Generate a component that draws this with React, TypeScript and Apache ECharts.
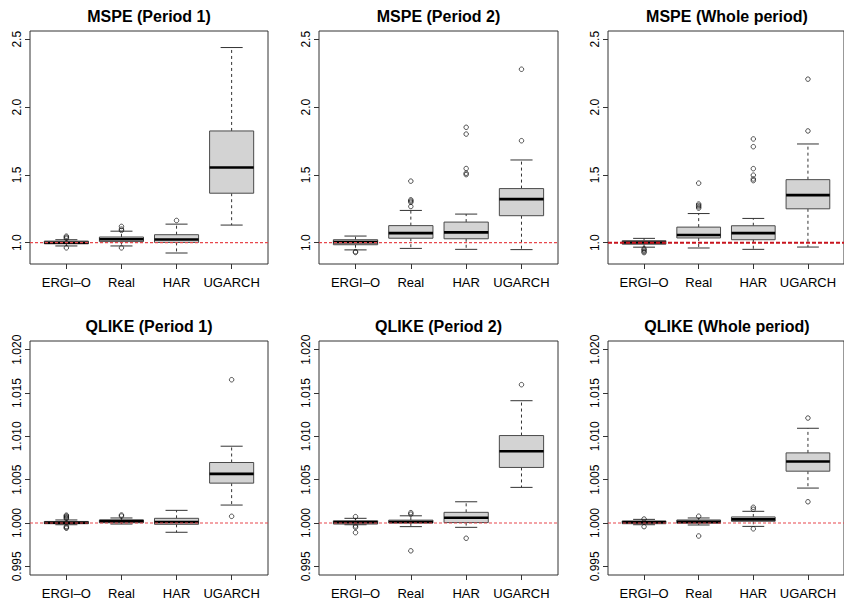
import React, { useEffect, useRef } from "react";
import * as echarts from "echarts";

// Model names on the x axis of every panel
const CATEGORIES = ["ERGI–O", "Real", "HAR", "UGARCH"];

// Tick values of the two y scales
const MSPE_TICKS = [1.0, 1.5, 2.0, 2.5];
const QLIKE_TICKS = [0.995, 1.0, 1.005, 1.01, 1.015, 1.02];

// Benchmark ratio drawn as a dashed reference line
const REFERENCE_LEVEL = 1;

// Box statistics per model: [lower whisker, Q1, median, Q3, upper whisker]
const mspeP1Boxes = [
  [0.976, 0.992, 1.0, 1.012, 1.022],
  [0.976, 1.008, 1.025, 1.042, 1.085],
  [0.924, 1.002, 1.024, 1.059, 1.137],
  [1.13, 1.365, 1.554, 1.824, 2.439],
];
const mspeP1Outliers = [[1.032, 1.04, 1.048, 0.962], [1.12, 1.1, 1.09, 0.962], [1.164], []];

const mspeP2Boxes = [
  [0.947, 0.985, 1.004, 1.022, 1.049],
  [0.958, 1.033, 1.071, 1.126, 1.238],
  [0.951, 1.029, 1.076, 1.152, 1.211],
  [0.949, 1.199, 1.321, 1.399, 1.61],
];
const mspeP2Outliers = [
  [0.934, 0.928],
  [1.454, 1.316, 1.307, 1.298, 1.267],
  [1.851, 1.801, 1.547, 1.512, 1.502],
  [2.279, 1.752],
];

const mspeWholeBoxes = [
  [0.967, 0.989, 1.001, 1.015, 1.032],
  [0.961, 1.035, 1.057, 1.115, 1.215],
  [0.951, 1.022, 1.071, 1.125, 1.179],
  [0.968, 1.25, 1.351, 1.465, 1.728],
];
const mspeWholeOutliers = [
  [0.955, 0.945, 0.935, 0.927],
  [1.439, 1.285, 1.275, 1.265, 1.255],
  [1.765, 1.708, 1.546, 1.498, 1.47, 1.458],
  [2.206, 1.824],
];

const qlikeP1Boxes = [
  [0.9998, 0.99992, 1.00003, 1.00018, 1.00035],
  [0.99988, 1.00003, 1.00022, 1.00035, 1.00058],
  [0.99893, 0.99985, 1.00011, 1.00054, 1.00146],
  [1.00207, 1.0046, 1.00567, 1.00698, 1.00886],
];
const qlikeP1Outliers = [
  [1.0009, 1.0008, 1.0007, 1.0006, 1.0005, 0.9996, 0.99948, 0.9994],
  [1.00092, 1.0008],
  [],
  [1.01653, 1.00077],
];

const qlikeP2Boxes = [
  [0.9998, 0.99988, 1.00008, 1.00026, 1.00054],
  [0.99958, 1.00001, 1.00011, 1.00033, 1.00083],
  [0.9995, 1.00005, 1.0006, 1.00123, 1.00245],
  [1.00411, 1.00641, 1.00828, 1.01009, 1.01411],
];
const qlikeP2Outliers = [
  [1.00073, 0.99965, 0.9995, 0.99889],
  [1.00119, 1.00102, 0.99679],
  [0.99824],
  [1.01596],
];

const qlikeWholeBoxes = [
  [0.9998, 0.99992, 1.00008, 1.00024, 1.00042],
  [0.99977, 0.99996, 1.00015, 1.00035, 1.00058],
  [0.99961, 1.0002, 1.00042, 1.0007, 1.00135],
  [1.00403, 1.00598, 1.0071, 1.00809, 1.01093],
];
const qlikeWholeOutliers = [
  [1.00046, 0.99958],
  [1.00078, 0.9985],
  [1.00181, 1.00158, 0.99933],
  [1.01211, 1.00245],
];

const FONT = "'Liberation Sans', Arial, Helvetica, sans-serif";

const X_MIN = 0.34;
const X_MAX = 4.66;

type Panel = {
  title: string;
  boxes: number[][];
  outliers: number[][];
  left: number;
  top: number;
  width: number;
  height: number;
  yMin: number;
  yMax: number;
  ticks: number[];
  decimals: number;
  refStrong: boolean;
  titleY: number;
};

const COL_LEFT = [30, 319, 608];
const COL_WIDTH = [238, 239, 238];
const ROW_TOP = [31, 341];
const ROW_HEIGHT = [233, 234];
const ROW_TITLE_Y = [16, 326];

const PANELS: Panel[] = [
  { title: "MSPE (Period 1)", boxes: mspeP1Boxes, outliers: mspeP1Outliers, col: 0, row: 0 },
  { title: "MSPE (Period 2)", boxes: mspeP2Boxes, outliers: mspeP2Outliers, col: 1, row: 0 },
  { title: "MSPE (Whole period)", boxes: mspeWholeBoxes, outliers: mspeWholeOutliers, col: 2, row: 0, refStrong: true },
  { title: "QLIKE (Period 1)", boxes: qlikeP1Boxes, outliers: qlikeP1Outliers, col: 0, row: 1 },
  { title: "QLIKE (Period 2)", boxes: qlikeP2Boxes, outliers: qlikeP2Outliers, col: 1, row: 1 },
  { title: "QLIKE (Whole period)", boxes: qlikeWholeBoxes, outliers: qlikeWholeOutliers, col: 2, row: 1 },
].map((p: any) => ({
  title: p.title,
  boxes: p.boxes,
  outliers: p.outliers,
  left: COL_LEFT[p.col],
  top: ROW_TOP[p.row],
  width: COL_WIDTH[p.col],
  height: ROW_HEIGHT[p.row],
  yMin: p.row === 0 ? 0.843 : 0.994,
  yMax: p.row === 0 ? 2.561 : 1.021,
  ticks: p.row === 0 ? MSPE_TICKS : QLIKE_TICKS,
  decimals: p.row === 0 ? 1 : 3,
  refStrong: !!p.refStrong,
  titleY: ROW_TITLE_Y[p.row],
}));

// R-style box: dashed whiskers, short staples, grey box, thick median
function renderBox(params: any, api: any) {
  const x = api.value(0);
  const pLo = api.coord([x, api.value(1)]);
  const pQ1 = api.coord([x, api.value(2)]);
  const pMed = api.coord([x, api.value(3)]);
  const pQ3 = api.coord([x, api.value(4)]);
  const pHi = api.coord([x, api.value(5)]);
  const unit = api.size([1, 0])[0];
  const cx = pMed[0];
  const hb = unit * 0.4;
  const hc = unit * 0.2;
  const whisker = { stroke: "#333", lineWidth: 1, lineDash: [3, 3] };
  const staple = { stroke: "#333", lineWidth: 1 };
  return {
    type: "group",
    children: [
      { type: "line", shape: { x1: cx, y1: pQ3[1], x2: cx, y2: pHi[1] }, style: whisker },
      { type: "line", shape: { x1: cx, y1: pQ1[1], x2: cx, y2: pLo[1] }, style: whisker },
      { type: "line", shape: { x1: cx - hc, y1: pHi[1], x2: cx + hc, y2: pHi[1] }, style: staple },
      { type: "line", shape: { x1: cx - hc, y1: pLo[1], x2: cx + hc, y2: pLo[1] }, style: staple },
      {
        type: "rect",
        shape: { x: cx - hb, y: pQ3[1], width: hb * 2, height: pQ1[1] - pQ3[1] },
        style: { fill: "#d3d3d3", stroke: "#4a4a4a", lineWidth: 1 },
      },
      {
        type: "line",
        shape: { x1: cx - hb, y1: pMed[1], x2: cx + hb, y2: pMed[1] },
        style: { stroke: "#000", lineWidth: 2.6 },
      },
    ],
  };
}

function buildOption() {
  const grid = PANELS.map((p) => ({
    left: p.left,
    top: p.top,
    width: p.width,
    height: p.height,
    show: true,
    borderColor: "#333",
    borderWidth: 1,
    backgroundColor: "transparent",
  }));

  const xAxis = PANELS.map((p, i) => ({
    type: "value",
    gridIndex: i,
    min: X_MIN,
    max: X_MAX,
    splitLine: { show: false },
    axisLine: { show: false },
    axisTick: {
      show: true,
      customValues: [1, 2, 3, 4],
      length: 5,
      lineStyle: { color: "#333", width: 1 },
    },
    axisLabel: {
      customValues: [1, 2, 3, 4],
      formatter: (v: number) => CATEGORIES[Math.round(v) - 1],
      fontSize: 13,
      fontFamily: FONT,
      color: "#000",
      margin: 12,
    },
  }));

  const yAxis = PANELS.map((p, i) => ({
    type: "value",
    gridIndex: i,
    min: p.yMin,
    max: p.yMax,
    splitLine: { show: false },
    axisLine: { show: false },
    axisTick: {
      show: true,
      customValues: p.ticks,
      length: 5,
      lineStyle: { color: "#333", width: 1 },
    },
    axisLabel: {
      customValues: p.ticks,
      formatter: (v: number) => v.toFixed(p.decimals),
      rotate: 90,
      fontSize: 12,
      fontFamily: FONT,
      color: "#000",
      margin: 7,
    },
  }));

  const series: any[] = [];
  PANELS.forEach((p, i) => {
    series.push({
      type: "custom",
      xAxisIndex: i,
      yAxisIndex: i,
      renderItem: renderBox,
      encode: { x: 0, y: [1, 2, 3, 4, 5] },
      data: p.boxes.map((b, k) => [k + 1, ...b]),
      z: 2,
      silent: true,
    });
    const pts: number[][] = [];
    p.outliers.forEach((vals, k) => vals.forEach((v) => pts.push([k + 1, v])));
    series.push({
      type: "scatter",
      xAxisIndex: i,
      yAxisIndex: i,
      data: pts,
      symbol: "circle",
      symbolSize: 4.5,
      itemStyle: { color: "rgba(0,0,0,0)", borderColor: "#111", borderWidth: 0.9 },
      z: 3,
      silent: true,
    });
    // dashed reference line across the whole panel
    series.push({
      type: "line",
      xAxisIndex: i,
      yAxisIndex: i,
      data: [
        [X_MIN, REFERENCE_LEVEL],
        [X_MAX, REFERENCE_LEVEL],
      ],
      showSymbol: false,
      symbol: "none",
      silent: true,
      z: 4,
      lineStyle: p.refStrong
        ? { color: "#c8141e", width: 2, type: [4, 2] }
        : { color: "#e8474c", width: 1.2, type: [3, 2] },
    });
  });

  const graphic = PANELS.map((p) => ({
    type: "text",
    x: p.left + p.width / 2,
    y: p.titleY,
    style: {
      text: p.title,
      font: `bold 16px ${FONT}`,
      textAlign: "center",
      textVerticalAlign: "middle",
      fill: "#000",
    },
  }));

  return {
    animation: false,
    backgroundColor: "#fff",
    grid,
    xAxis,
    yAxis,
    series,
    graphic,
  };
}

export default function App() {
  const ref = useRef<HTMLDivElement>(null);
  useEffect(() => {
    if (!ref.current) return;
    const chart = echarts.init(ref.current, null, { renderer: "svg" });
    chart.setOption(buildOption() as any);
    return () => chart.dispose();
  }, []);
  return (
    <div
      ref={ref}
      style={{ position: "fixed", left: 0, top: 0, width: 844, height: 602, background: "#fff" }}
    />
  );
}
